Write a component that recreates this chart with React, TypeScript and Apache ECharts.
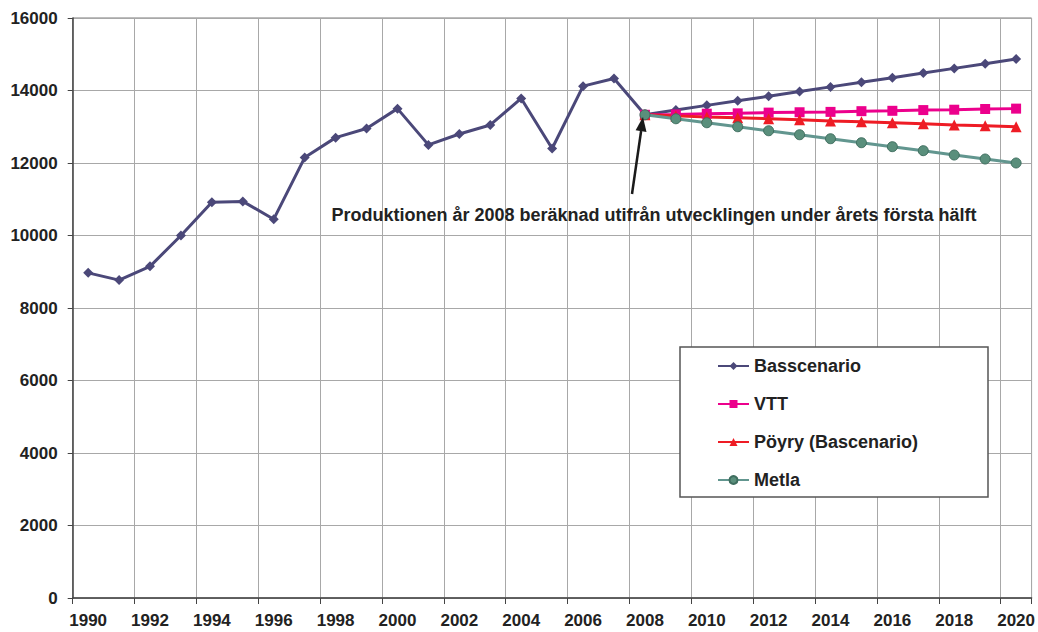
import React, { useEffect, useRef } from "react";
import * as echarts from "echarts";

const years = [
  "1990","1991","1992","1993","1994","1995","1996","1997","1998","1999",
  "2000","2001","2002","2003","2004","2005","2006","2007","2008","2009",
  "2010","2011","2012","2013","2014","2015","2016","2017","2018","2019","2020",
];

const basscenario = [
  8970, 8770, 9150, 10000, 10920, 10940, 10450, 12150, 12700, 12950,
  13500, 12500, 12800, 13050, 13780, 12400, 14120, 14330, 13330, 13460,
  13590, 13720, 13840, 13970, 14100, 14230, 14350, 14480, 14610, 14740, 14870,
];

const pre = Array(18).fill(null);
const vtt = [...pre, 13330, 13340, 13360, 13370, 13390, 13400, 13410, 13430, 13440, 13460, 13470, 13490, 13500];
const poyry = [...pre, 13330, 13300, 13270, 13250, 13220, 13190, 13160, 13140, 13110, 13080, 13050, 13030, 13000];
const metla = [...pre, 13330, 13220, 13110, 13000, 12890, 12780, 12670, 12560, 12450, 12340, 12220, 12110, 12000];

const seriesNames = ["Basscenario", "VTT", "Pöyry (Bascenario)", "Metla"];
const annotation = "Produktionen år 2008 beräknad utifrån utvecklingen under årets första hälft";

const FONT = "'Liberation Sans', Arial, Helvetica, sans-serif";

export default function App() {
  const ref = useRef<HTMLDivElement>(null);
  useEffect(() => {
    document.body.style.margin = "0";
    const chart = echarts.init(ref.current!, null, { renderer: "svg" });
    chart.setOption({
      animation: false,
      backgroundColor: "#ffffff",
      textStyle: { fontFamily: FONT },
      grid: {
        left: 72.7,
        right: 6,
        top: 18,
        bottom: 34,
        show: true,
        borderColor: "#7a7a7a",
        borderWidth: 1,
      },
      xAxis: {
        type: "category",
        data: years,
        boundaryGap: true,
        axisLine: { lineStyle: { color: "#444", width: 1.5 } },
        axisTick: { show: true, interval: 1, length: 6, lineStyle: { color: "#444" } },
        axisLabel: {
          interval: 1,
          fontSize: 17,
          fontWeight: "bold",
          color: "#222",
          margin: 14,
          fontFamily: FONT,
        },
        splitLine: { show: true, interval: 1, lineStyle: { color: "#a8a8a8", width: 1 } },
      },
      yAxis: {
        type: "value",
        min: 0,
        max: 16000,
        interval: 2000,
        axisLine: { show: true, lineStyle: { color: "#444", width: 1.5 } },
        axisTick: { show: true, length: 5, lineStyle: { color: "#444" } },
        axisLabel: {
          fontSize: 17,
          fontWeight: "bold",
          color: "#222",
          margin: 15,
          fontFamily: FONT,
          formatter: (v: number) => String(v),
        },
        splitLine: { show: true, lineStyle: { color: "#a8a8a8", width: 1 } },
      },
      legend: {
        orient: "vertical",
        left: 717,
        top: 357,
        itemWidth: 31,
        itemHeight: 10,
        itemGap: 20,
        padding: 0,
        data: seriesNames,
        textStyle: { fontSize: 18, fontWeight: "bold", color: "#222", fontFamily: FONT },
        z: 10,
      },
      graphic: [
        {
          type: "rect",
          z: 5,
          shape: { x: 680, y: 347, width: 308, height: 150 },
          style: { fill: "#ffffff", stroke: "#555", lineWidth: 1.5 },
        },
        {
          type: "text",
          z: 6,
          x: 654,
          y: 215,
          style: {
            text: annotation,
            font: `bold 18px ${FONT}`,
            fill: "#222",
            textAlign: "center",
            textVerticalAlign: "middle",
          },
        },
        {
          type: "line",
          z: 6,
          shape: { x1: 632, y1: 194, x2: 641.1, y2: 131 },
          style: { stroke: "#1a1a1a", lineWidth: 2.5 },
        },
        {
          type: "polygon",
          z: 6,
          shape: { points: [[643, 117], [646.5, 132], [635.6, 130.3]] },
          style: { fill: "#1a1a1a" },
        },
      ],
      series: [
        {
          name: seriesNames[0],
          type: "line",
          data: basscenario,
          symbol: "diamond",
          symbolSize: 10,
          lineStyle: { color: "#4b4879", width: 3 },
          itemStyle: { color: "#4b4879" },
        },
        {
          name: seriesNames[1],
          type: "line",
          data: vtt,
          symbol: "rect",
          symbolSize: 10,
          lineStyle: { color: "#ec008c", width: 3 },
          itemStyle: { color: "#ec008c" },
        },
        {
          name: seriesNames[2],
          type: "line",
          data: poyry,
          symbol: "triangle",
          symbolSize: 11,
          lineStyle: { color: "#ee1c25", width: 3 },
          itemStyle: { color: "#ee1c25" },
        },
        {
          name: seriesNames[3],
          type: "line",
          data: metla,
          symbol: "circle",
          symbolSize: 10,
          lineStyle: { color: "#62968f", width: 3 },
          itemStyle: { color: "#5a8f7c", borderColor: "#3f6e5f", borderWidth: 1 },
        },
      ],
    });
    return () => chart.dispose();
  }, []);
  return (
    <div
      ref={ref}
      style={{ position: "fixed", left: 0, top: 0, width: 1038, height: 632 }}
    />
  );
}
